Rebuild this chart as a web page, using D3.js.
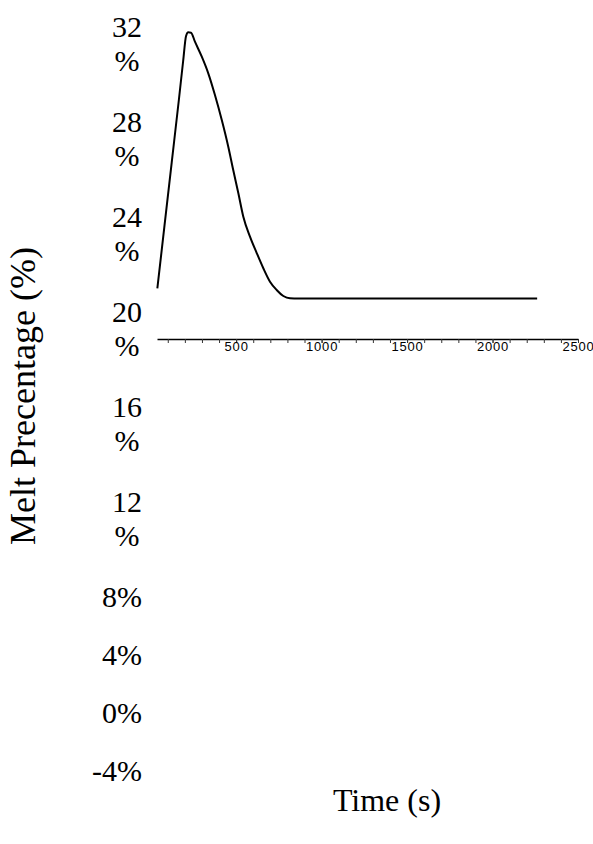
<!DOCTYPE html>
<html>
<head>
<meta charset="utf-8">
<script src="https://cdn.jsdelivr.net/npm/d3@7"></script>
<style>
  html, body { margin: 0; padding: 0; background: #fff; }
  svg { display: block; }
</style>
</head>
<body>
<script>
// Melt percentage over time
const timeSec = [39, 81, 123, 165, 190, 207, 220, 236, 259, 299, 337, 376, 416,
  454, 483, 513, 542, 581, 621, 659, 698, 737, 776, 815, 864, 1000, 1500, 2000, 2261];
const meltPct = [2.0, 9.3, 16.6, 23.9, 28.4, 31.3, 31.73, 31.69, 30.64,
  28.9, 26.97, 24.45, 21.55, 18.45, 15.74, 13.04, 10.32, 8.0, 6.07, 4.33, 2.77, 1.81, 1.11, 0.84,
  0.82, 0.82, 0.82, 0.82, 0.82];

const yTickValues = [32, 28, 24, 20, 16, 12, 8, 4, 0, -4];
const xMajorTicks = [500, 1000, 1500, 2000, 2500];
const xMinorTicks = d3.range(100, 2500, 100);

const xTitle = "Time (s)";
const yTitle = "Melt Precentage (%)";

const W = 593, H = 844;
const svg = d3.select("body").append("svg").attr("width", W).attr("height", H);

const x = d3.scaleLinear().domain([37, 2500]).range([157, 578]);
const y = d3.scaleLinear().domain([-4, 32]).range([340, 30]);

// x axis: minor ticks every 100 s, labels every 500 s
const axisY = 339;
const gMinor = svg.append("g").attr("transform", `translate(0,${axisY})`)
  .call(d3.axisBottom(x).tickValues(xMinorTicks).tickSize(4).tickSizeOuter(0).tickFormat(""));
gMinor.select(".domain").attr("stroke", "#000").attr("stroke-width", 1.6);
gMinor.selectAll(".tick line").attr("stroke", "#333").attr("stroke-width", 1);

const gMajor = svg.append("g").attr("transform", `translate(0,${axisY})`)
  .call(d3.axisBottom(x).tickValues(xMajorTicks).tickSize(4).tickSizeOuter(0).tickPadding(-1)
    .tickFormat(d => String(d)));
gMajor.select(".domain").remove();
gMajor.selectAll(".tick line").attr("stroke", "#333").attr("stroke-width", 1);
gMajor.selectAll(".tick text")
  .attr("fill", "#000")
  .style("font-family", "'Liberation Sans', Arial, sans-serif")
  .style("font-size", "13px")
  .style("letter-spacing", "0.8px");

// y tick labels: serif labels, wrapped onto two lines when too wide, stacked down the left side
const labelFont = "'Liberation Serif', 'Times New Roman', serif";
const gY = svg.append("g").attr("class", "y-labels");
let baseY = 37;        // baseline of the first label line
const lineStep = 34;   // baseline spacing inside a wrapped label
const blockRight = 142;
yTickValues.forEach(v => {
  const num = String(v);
  const full = num + "%";
  const probe = gY.append("text").style("font-family", labelFont).style("font-size", "30px").text(full);
  const wide = probe.node().getComputedTextLength() > 52;
  probe.remove();
  const lines = wide ? [num, "%"] : [full];
  const t = gY.append("text")
    .style("font-family", labelFont).style("font-size", "30px").attr("fill", "#000");
  const spans = lines.map((s, i) => t.append("tspan").attr("y", baseY + i * lineStep).text(s));
  const widths = spans.map(sp => sp.node().getComputedTextLength());
  const bw = d3.max(widths);
  spans.forEach((sp, i) => sp.attr("x", blockRight - bw + (bw - widths[i]) / 2));
  baseY += lines.length * 37 + 21;
});

// the curve
const line = d3.line()
  .x((d, i) => x(timeSec[i]))
  .y(d => y(d))
  .curve(d3.curveMonotoneX);
svg.append("path")
  .datum(meltPct)
  .attr("fill", "none")
  .attr("stroke", "#000")
  .attr("stroke-width", 2)
  .attr("stroke-linejoin", "round")
  .attr("d", line);

// axis titles
svg.append("text")
  .attr("x", 387).attr("y", 811)
  .attr("text-anchor", "middle")
  .style("font-family", labelFont).style("font-size", "32px")
  .text(xTitle);

svg.append("text")
  .attr("transform", "translate(35,396) rotate(-90)")
  .attr("text-anchor", "middle")
  .style("font-family", labelFont).style("font-size", "36px")
  .text(yTitle);
</script>
</body>
</html>
